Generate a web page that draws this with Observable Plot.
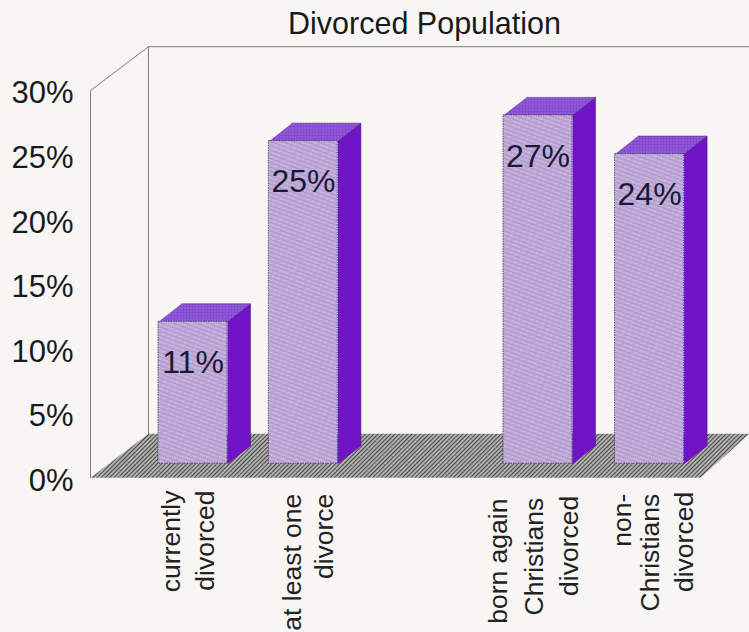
<!DOCTYPE html>
<html>
<head>
<meta charset="utf-8">
<script src="https://cdn.jsdelivr.net/npm/d3@7"></script>
<script src="https://cdn.jsdelivr.net/npm/@observablehq/plot@0.6"></script>
<style>
  html, body { margin: 0; background: #f7f6f4; overflow: hidden; }
</style>
</head>
<body>
<div id="chart"></div>
<script>
// Share of the population that has been divorced, by group.
const categories = ["currently divorced", "at least one divorce", "born again Christians divorced", "non-Christians divorced"];
const percents = [11, 25, 27, 24];
const yTicks = [0, 5, 10, 15, 20, 25, 30];

// Horizontal placement of each bar, in slots; the third slot's predecessor is left empty.
const barSlots = [0, 0.96, 3.0, 3.97];

// Wrapped category labels, one entry per printed line.
const labelLines = ["currently", "divorced", "at least one", "divorce", "born again", "Christians", "divorced", "non-", "Christians", "divorced"];
const labelSlots = [0.19, 0.48, 1.235, 1.52, 3.03, 3.34, 3.645, 4.11, 4.35, 4.65];
const labelTops = [-1.0, -1.0, -1.24, -1.24, -1.62, -1.55, -1.4, -1.24, -1.24, -1.1];

// Pseudo-3D projection of the chart box.
const barWidth = 0.6, barDepthX = 0.2, barDepthY = 1.39, barBase = 1.08;
const wallDepthX = 0.504, wallDepthY = 3.4, yMax = 30;
const xMin = -0.5913, xMax = 5.139, floorRight = 4.713;

const polygon = (key, pts) => pts.map(([x, y]) => ({key, x, y}));

const floor = polygon("floor", [
  [xMin, 0], [xMin + wallDepthX, wallDepthY], [xMax, wallDepthY], [floorRight, 0]
]);
const walls = [
  ...polygon("front", [[xMin, 0], [xMin, yMax], [xMin + wallDepthX, yMax + wallDepthY], [xMax, yMax + wallDepthY]]),
  ...polygon("corner", [[xMin + wallDepthX, wallDepthY], [xMin + wallDepthX, yMax + wallDepthY]])
];

const bars = percents.map((value, i) => ({
  category: categories[i], value, x1: barSlots[i], x2: barSlots[i] + barWidth, top: barBase + value
}));
const topFaces = bars.flatMap(b => polygon(b.category, [
  [b.x1, b.top], [b.x2, b.top], [b.x2 + barDepthX, b.top + barDepthY], [b.x1 + barDepthX, b.top + barDepthY]
]));
const sideFaces = bars.flatMap(b => polygon(b.category, [
  [b.x2, barBase], [b.x2 + barDepthX, barBase + barDepthY], [b.x2 + barDepthX, b.top + barDepthY], [b.x2, b.top]
]));
const labelRows = labelLines.map((text, i) => ({text, x: labelSlots[i], y: labelTops[i]}));

// Stipple and hatch fills used by the faces of the box.
const textures = () => d3.create("svg:defs").html(`
  <pattern id="floorHatch" width="3" height="3" patternUnits="userSpaceOnUse" patternTransform="rotate(-45)">
    <rect width="3" height="3" fill="#b4b4b2"/>
    <rect width="3" height="1.1" fill="#4a4a4a"/>
  </pattern>
  <pattern id="frontHatch" width="6" height="4" patternUnits="userSpaceOnUse" patternTransform="rotate(20)">
    <rect width="6" height="4" fill="#c3aade"/>
    <rect width="6" height="0.8" fill="#a39bb2"/>
    <circle cx="3" cy="2.4" r="0.6" fill="#d4c2e8"/>
  </pattern>
  <pattern id="topStipple" width="3" height="3" patternUnits="userSpaceOnUse">
    <rect width="3" height="3" fill="#8348cf"/>
    <circle cx="1.5" cy="1.5" r="0.8" fill="#a878e2"/>
  </pattern>
`).node();

const chart = Plot.plot({
  width: 749,
  height: 632,
  marginLeft: 90,
  marginRight: 0,
  marginTop: 0,
  marginBottom: 0,
  style: {background: "#f7f6f4", fontFamily: "'Liberation Sans', Arial, sans-serif", overflow: "hidden"},
  x: {domain: [xMin, xMax], axis: null},
  y: {domain: [-12, 36.98], axis: null},
  marks: [
    textures,
    Plot.line(walls, {x: "x", y: "y", z: "key", stroke: "#7d7d7d", strokeWidth: 1}),
    Plot.line(floor, {x: "x", y: "y", z: "key", fill: "url(#floorHatch)", stroke: "none"}),
    Plot.axisY({ticks: yTicks, tickFormat: d => `${d}%`, tickSize: 0, tickPadding: 17, fontSize: 31, dy: 3, label: null, fill: "#1a1a1a"}),
    Plot.line(sideFaces, {x: "x", y: "y", z: "key", fill: "#7014c6", stroke: "#4b1f86", strokeWidth: 0.6}),
    Plot.line(topFaces, {x: "x", y: "y", z: "key", fill: "url(#topStipple)", stroke: "#4b2f86", strokeWidth: 0.6}),
    Plot.rect(bars, {x1: "x1", x2: "x2", y1: barBase, y2: "top", fill: "url(#frontHatch)", stroke: "#3f3560", strokeWidth: 0.8, strokeDasharray: "1.5 1"}),
    Plot.text(bars, {x: d => (d.x1 + d.x2) / 2, y: d => d.top, dy: 41, text: d => `${d.value}%`, fontSize: 32, fill: "#1c1a33"}),
    Plot.text(labelRows, {x: "x", y: "y", text: "text", rotate: -90, textAnchor: "end", lineAnchor: "bottom", fontSize: 26.5, fill: "#222"}),
    Plot.text(["Divorced Population"], {x: 2.313, y: 35.15, fontSize: 30.5, fill: "#1a1a1a"})
  ]
});
document.getElementById("chart").append(chart);
</script>
</body>
</html>
